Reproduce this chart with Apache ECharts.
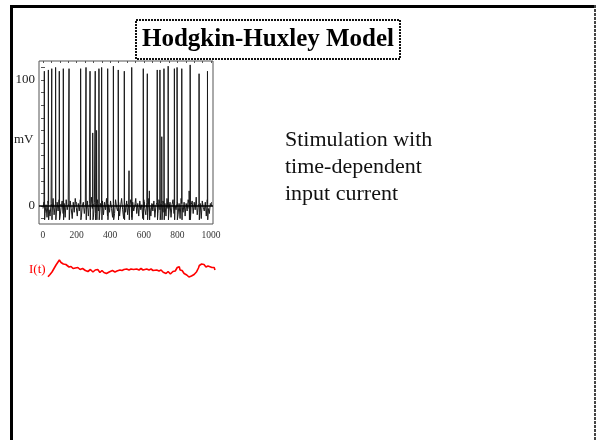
<!DOCTYPE html>
<html>
<head>
<meta charset="utf-8">
<script src="https://cdn.jsdelivr.net/npm/echarts@6/dist/echarts.min.js"></script>
<style>
html,body{margin:0;padding:0;background:#fff;}
#chart{width:602px;height:440px;}
</style>
</head>
<body>
<div id="chart"></div>
<script>
// ---- Data ----
// Membrane potential baseline (mV), sampled every 6 ms from t = 0
const vmBaseStep = 6;
const vmBaseline = [
-2,3,-6,1,-9,4,-3,-8,2,-5,6,-7,0,-10,3,-4,5,-8,-1,4,
-6,2,-9,5,-3,1,-7,4,-2,-10,3,-5,6,-1,-8,2,-4,5,-9,0,
3,-6,1,-3,4,-8,2,-5,7,-2,-9,3,-6,0,5,-4,-10,2,-1,4,
-7,3,-3,6,-8,1,-5,4,-2,-9,2,-6,5,-1,-4,3,-8,0,6,-3,
-10,2,-5,4,-7,1,-2,5,-9,3,-4,0,6,-6,2,-8,4,-3,1,-10,
5,-2,-7,3,-5,6,-1,-8,2,-4,4,-9,0,3,-6,5,-3,-10,1,4,
-5,2,-8,6,-2,-4,3,-9,1,5,-6,0,-3,4,-7,2,-10,6,-1,-5,
3,-8,2,-4,5,-2,-9,1,4,-6,3,-3,7,-7,0,-5,2,-10,4,-1,
-4,3,-8,5,-2,-6,2,0
];
// Spike times (ms) and peak voltages (mV)
const spikeTimes = [8,32,52,75,97,121,155,224,256,280,296,311,319,333,349,385,419,448,484,512,528,597,621,633,680,696,707,720,745,782,798,826,870,876,929,979];
const spikePeaks = [107,108,109,110,107,109,109,109,110,107,58,107,60,109,110,109,111,108,107,28,110,109,105,12,108,108,55,109,111,109,110,109,12,112,105,107];
const spikeUndershoot = -11;

// Input current I(t) (arbitrary units)
const currentT = [0,12,24,36,48,58,68,73,78,85,92,97,102,107,112,116,120,126,132,138,144,150,156,164,172,179,186,192,198,207,216,224,232,239,246,254,263,269,275,283,292,298,305,311,317,323,329,335,341,346,350,356,361,366,371,376,380,386,391,396,401,407,413,422,431,437,443,449,455,463,471,478,485,491,497,504,512,522,531,538,545,551,557,563,569,580,591,598,605,611,617,623,629,640,651,658,665,671,677,684,690,696,701,707,713,719,725,733,741,748,754,762,770,774,778,782,786,791,796,803,810,815,820,826,831,835,838,844,850,855,859,865,870,875,880,885,890,896,901,906,910,915,920,924,928,934,940,946,952,958,964,970,976,982,990,995,1000];
const currentV = [8.3,10.5,13,16.5,20,22,25,23.5,22.5,21.5,21,22.5,22,20.5,19.3,20.5,20.5,18,16.7,18.5,18,16.5,16,17,16,17.5,17,15.5,15,16.5,16,14.5,15,13.5,14,15.5,15,13,13.5,15,14,15.5,14.5,12.5,13,14.5,14,12.5,13.3,11,11.5,12.5,11.7,13,13.5,12,12,14.5,14,12.5,13,14.5,14,15.5,15,13.5,14.5,16,15.5,14.5,16,16.5,15,16.5,16,14.5,15.5,16.5,16,14.5,15,17,16.5,14.5,15,16.5,16,14.5,15,16.5,16,14,14.5,16,15,13.5,14,15.5,15,13,12.7,14,13.5,11.5,12,13.5,13,11,11.7,13.5,13,14,15,17.5,17,19,18.3,15,16,14.5,13.3,11.5,11,12,10,10.5,9,8,6.7,8.5,9,8,9.3,10.5,11,12.5,13.3,15,17,19.5,20,21.5,21,19.5,19.5,20.5,19.3,18,20,19,18,18.3,16.5,17.5,16.7,17.5,15];

// Tick labels
const xTickValues = [0,200,400,600,800,1000];
const xMinorTicks = [0,50,100,150,200,250,300,350,400,450,500,550,600,650,700,750,800,850,900,950,1000];
const yTickValues = [0,100];
const yMinorTicks = [-10,0,10,20,30,40,50,60,70,80,90,100,110];

const titleText = 'Hodgkin-Huxley Model';
const bodyLines = ['Stimulation with','time-dependent','input current'];
const yUnit = 'mV';
const currentLabel = 'I(t)';

// ---- Build series data ----
const vmPoints = vmBaseline.map((v, i) => [i * vmBaseStep, v]);
spikeTimes.forEach((t, i) => {
  vmPoints.push([t - 0.6, 2]);
  vmPoints.push([t, spikePeaks[i]]);
  vmPoints.push([t + 1.6, spikeUndershoot]);
});
vmPoints.sort((a, b) => a[0] - b[0]);
const currentData = currentT.map((t, i) => [t, currentV[i]]);

const serif = '"Liberation Serif","DejaVu Serif",serif';
const chart = echarts.init(document.getElementById('chart'), null, {renderer: 'canvas'});
const frameColor = '#555';

chart.setOption({
  animation: false,
  backgroundColor: '#fff',
  grid: [
    {left: 39, top: 61, width: 174, height: 163, show: true, borderColor: frameColor, borderWidth: 1, backgroundColor: 'transparent'},
    {left: 48, top: 255, width: 167, height: 30, show: false}
  ],
  xAxis: [
    {gridIndex: 0, type: 'value', min: -23.8, max: 1011.9, position: 'bottom',
     axisLine: {show: false}, splitLine: {show: false},
     axisTick: {show: true, inside: true, length: 4, customValues: xTickValues, lineStyle: {color: frameColor}},
     axisLabel: {customValues: xTickValues, margin: 6, fontFamily: serif, fontSize: 9.5, color: '#333', formatter: v => String(v)}},
    {gridIndex: 0, type: 'value', min: -23.8, max: 1011.9, position: 'bottom',
     axisLine: {show: false}, splitLine: {show: false},
     axisTick: {show: true, inside: true, length: 2, customValues: xMinorTicks, lineStyle: {color: frameColor}},
     axisLabel: {show: false}},
    {gridIndex: 0, type: 'value', min: -23.8, max: 1011.9, position: 'top',
     axisLine: {show: false}, splitLine: {show: false},
     axisTick: {show: true, inside: true, length: 2, customValues: xMinorTicks, lineStyle: {color: frameColor}},
     axisLabel: {show: false}},
    {gridIndex: 1, type: 'value', min: 0, max: 1000, show: false}
  ],
  yAxis: [
    {gridIndex: 0, type: 'value', min: -14.3, max: 115.1, position: 'left',
     axisLine: {show: false}, splitLine: {show: false},
     axisTick: {show: true, inside: true, length: 2, customValues: yMinorTicks, lineStyle: {color: frameColor}},
     axisLabel: {customValues: yTickValues, margin: 4, fontFamily: serif, fontSize: 13, color: '#222', formatter: v => String(v)}},
    {gridIndex: 0, type: 'value', min: -14.3, max: 115.1, position: 'right',
     axisLine: {show: false}, splitLine: {show: false},
     axisTick: {show: true, inside: true, length: 2, customValues: yMinorTicks, lineStyle: {color: frameColor}},
     axisLabel: {show: false}},
    {gridIndex: 1, type: 'value', min: 0, max: 30, show: false}
  ],
  series: [
    {type: 'line', xAxisIndex: 0, yAxisIndex: 0, data: vmPoints, showSymbol: false, symbol: 'none',
     lineStyle: {color: '#1a1a1a', width: 1}, silent: true,
     markLine: {silent: true, symbol: ['none','none'], label: {show: false},
       lineStyle: {color: '#000', width: 1.5, type: 'solid'}, data: [{yAxis: 0}]}},
    {type: 'line', xAxisIndex: 3, yAxisIndex: 2, data: currentData, showSymbol: false, symbol: 'none',
     lineStyle: {color: '#ff0000', width: 1.6}, silent: true}
  ],
  graphic: [
    // slide frame
    {type: 'rect', shape: {x: 10, y: 5, width: 3, height: 440}, style: {fill: '#000'}, silent: true},
    {type: 'rect', shape: {x: 10, y: 5, width: 586, height: 3}, style: {fill: '#000'}, silent: true},
    {type: 'line', shape: {x1: 595, y1: 5, x2: 595, y2: 440}, style: {stroke: '#444', lineWidth: 2, lineDash: [3, 1]}, silent: true},
    // title box
    {type: 'rect', shape: {x: 136, y: 20, width: 264, height: 39}, style: {fill: 'none', stroke: '#111', lineWidth: 2, lineDash: [2, 1]}, silent: true},
    {type: 'text', x: 268, y: 40, style: {text: titleText, font: 'bold 25px ' + serif, fill: '#000', align: 'center', verticalAlign: 'middle',
      textShadowColor: 'rgba(0,0,0,0.35)', textShadowOffsetX: 1, textShadowOffsetY: 1, textShadowBlur: 0}, silent: true},
    // body text
    {type: 'text', x: 285, y: 140, style: {text: bodyLines[0], font: '22px ' + serif, fill: '#111', verticalAlign: 'middle'}, silent: true},
    {type: 'text', x: 285, y: 167, style: {text: bodyLines[1], font: '22px ' + serif, fill: '#111', verticalAlign: 'middle'}, silent: true},
    {type: 'text', x: 285, y: 194, style: {text: bodyLines[2], font: '22px ' + serif, fill: '#111', verticalAlign: 'middle'}, silent: true},
    // axis unit and current label
    {type: 'text', x: 14, y: 140, style: {text: yUnit, font: '13px ' + serif, fill: '#222', verticalAlign: 'middle'}, silent: true},
    {type: 'text', x: 29, y: 270, style: {text: currentLabel, font: '13px ' + serif, fill: '#ff0000', verticalAlign: 'middle'}, silent: true}
  ]
});
</script>
</body>
</html>
